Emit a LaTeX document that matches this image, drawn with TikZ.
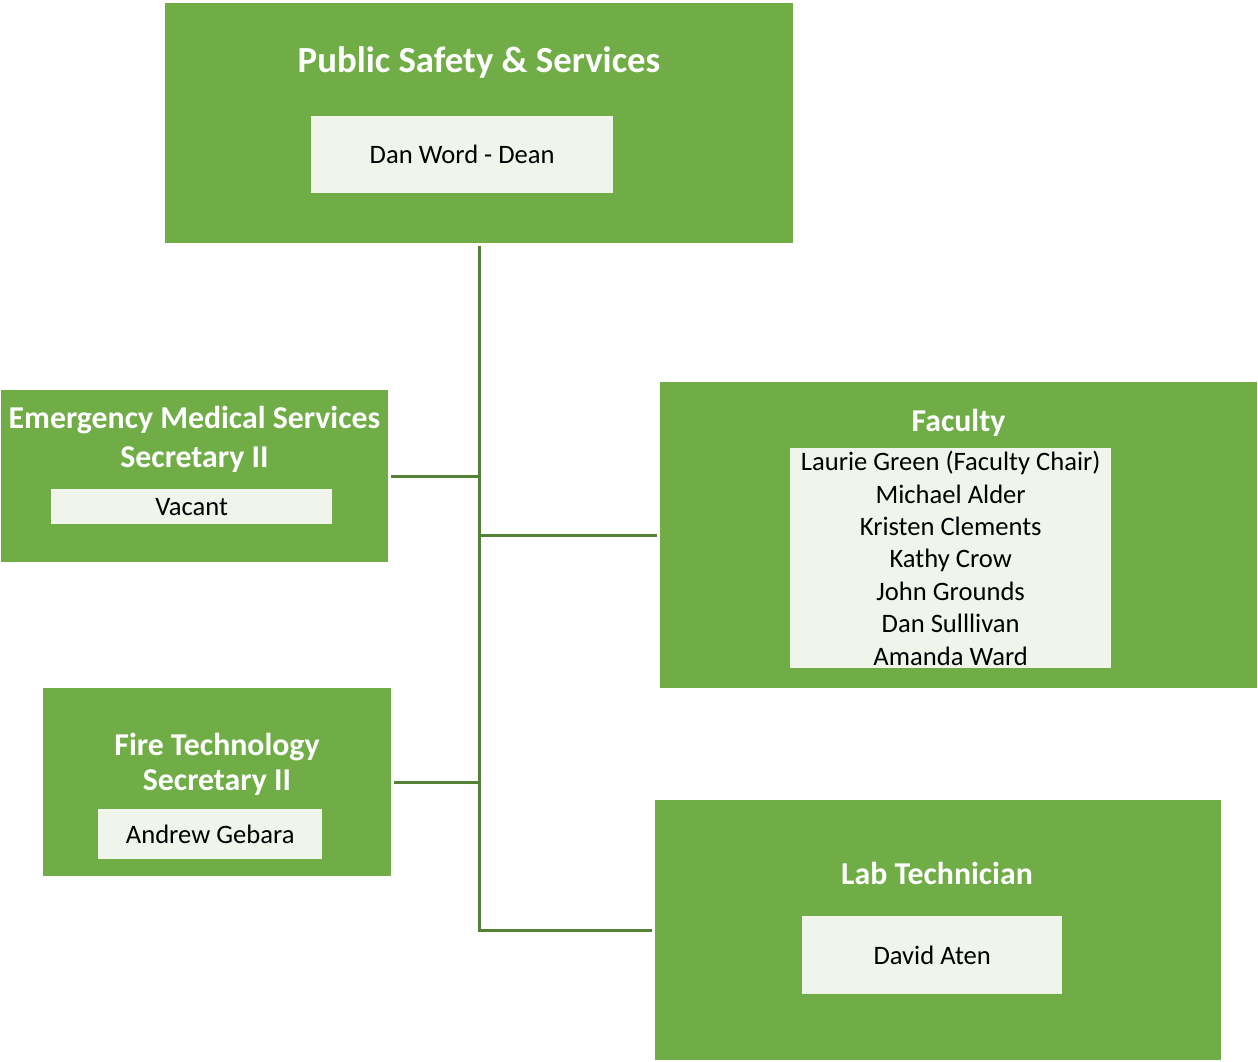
\documentclass[tikz,border=0pt]{standalone}
\usepackage{fontspec}
\setmainfont{Carlito}
\usetikzlibrary{positioning}
\definecolor{unitgreen}{RGB}{112,173,71}
\definecolor{linkgreen}{RGB}{84,130,53}
\definecolor{namefill}{RGB}{239,245,235}
\tikzset{
	unit/.style={fill=unitgreen, inner sep=0pt, anchor=north west},
	namebox/.style={fill=namefill, inner sep=0pt, anchor=north west, align=center,
		font=\fontsize{26.6}{32.4}\selectfont},
	head/.style={text=white, anchor=base, align=center,
		font=\fontsize{31.8}{39}\selectfont\bfseries},
	link/.style={draw=linkgreen, line width=3pt, shorten <=3pt, shorten >=3pt}
}
\begin{document}
\begin{tikzpicture}[x=1pt, y=-1pt]
			\useasboundingbox (0,0) rectangle (1258,1061);
			% units
			\node (top) [unit, minimum width=628pt, minimum height=240pt] at (165,3) {};
			\node (ems) [unit, minimum width=387pt, minimum height=172pt] at (1,390) {};
			\node (fac) [unit, minimum width=597pt, minimum height=306pt] at (660,382) {};
			\node (fire) [unit, minimum width=348pt, minimum height=188pt] at (43,688) {};
			\node (lab) [unit, minimum width=566pt, minimum height=260pt] at (655,800) {};
			% headings (base = last line)
			\node (top head) [head, font=\fontsize{36.8}{44}\selectfont\bfseries] at (479,72)
				{Public Safety \& Services};
			\node (ems head) [head] at (194.5,467) {Emergency Medical Services\\Secretary II};
			\node (fac head) [head] at (958.5,431) {Faculty};
			\node (fire head) [head] at (217,790) {Fire Technology\\[-4pt]Secretary II};
			\node (lab head) [head] at (937,884) {Lab Technician};
			% names
			\node (dean) [namebox, minimum width=302pt, minimum height=77pt] at (311,116)
				{Dan Word - Dean};
			\node (ems sec) [namebox, minimum width=281pt, minimum height=35pt] at (51,489)
				{Vacant};
			\node (fac list) [namebox, minimum width=321pt, minimum height=220pt] at (790,448)
				{Laurie Green (Faculty Chair)\\Michael Alder\\Kristen Clements\\Kathy Crow\\
				John Grounds\\Dan Sulllivan\\Amanda Ward};
			\node (fire sec) [namebox, minimum width=224pt, minimum height=50pt] at (98,809)
				{Andrew Gebara};
			\node (lab tech) [namebox, minimum width=260pt, minimum height=78pt] at (802,916)
				{David Aten};
			% links
			\draw [link] (top.south) -- (top.south |- lab.west) -- (lab.west);
			\draw [link, shorten >=0pt] (ems.east) -- (ems.east -| top.south);
			\draw [link, shorten >=0pt] (fire.east) -- (fire.east -| top.south);
			\draw [link, shorten <=0pt] (fac.west -| top.south) -- (fac.west);
		\end{tikzpicture}
\end{document}
